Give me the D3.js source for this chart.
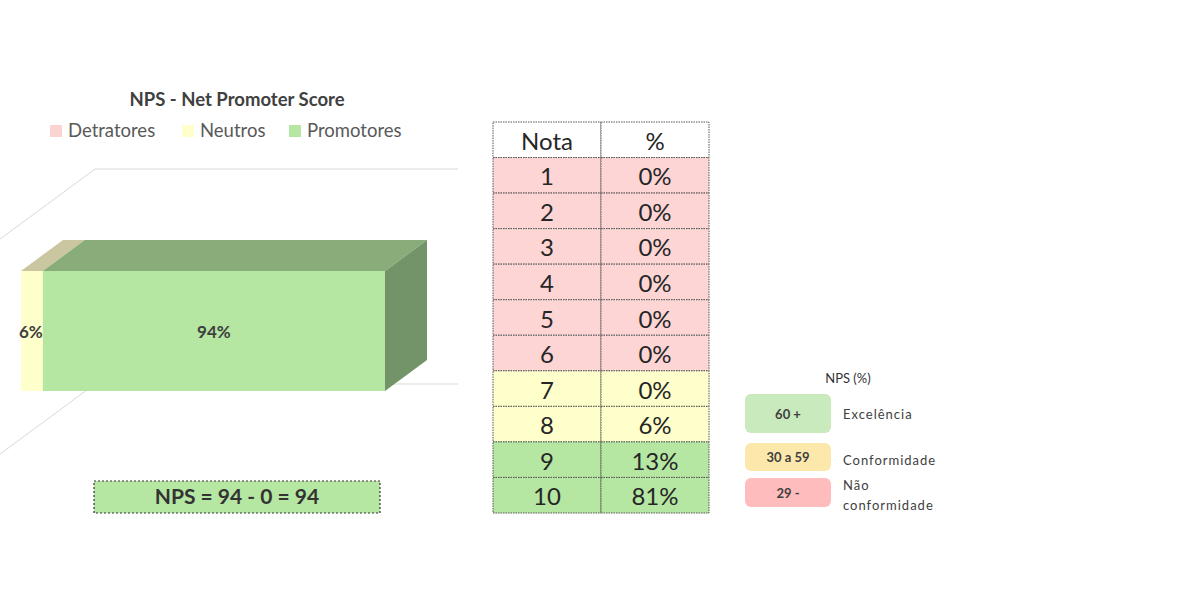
<!DOCTYPE html>
<html>
<head>
<meta charset="utf-8">
<script src="https://cdn.jsdelivr.net/npm/d3@7"></script>
<style>
  body { margin: 0; background: #fff; }
  text { font-family: Lato, "Noto Sans", sans-serif; }
</style>
</head>
<body>
<script>
// chart data
var categories = ["Detratores", "Neutros", "Promotores"]
var values = [0, 6, 94]
var catColors = ["#fcd3d3", "#ffffcc", "#b5e6a2"]

// table data
var notas = [1, 2, 3, 4, 5, 6, 7, 8, 9, 10]
var percents = [0, 0, 0, 0, 0, 0, 0, 6, 13, 81]
var notaGroup = [0, 0, 0, 0, 0, 0, 1, 1, 2, 2]

// NPS legend
var levelLabels = ["60 +", "30 a 59", "29 -"]
var levelNames = [["Excelência"], ["Conformidade"], ["Não", "conformidade"]]
var levelColors = ["#c8eabc", "#fde8ac", "#ffbcbc"]

var width = 1200, height = 600

var svg = d3.select("body").append("svg")
    .attr("width", width)
    .attr("height", height)

// ---------- 3D stacked bar ----------
var dx = 42, dy = -31
var x = d3.scaleLinear().domain([0, 100]).range([21, 385])
var y = d3.scaleBand().domain(["NPS"]).range([271, 391])

var topColors = ["#d3b5b5", "#c9c6a0", "#88ad7a"]
var sideColor = "#739468"

// back gridlines (floor/wall)
var grid = svg.append("g").attr("stroke", "#d9d9d9").attr("fill", "none")
;[169, 384].forEach(function (gy) {
    grid.append("line").attr("x1", 95).attr("x2", 458).attr("y1", gy).attr("y2", gy)
    grid.append("line").attr("x1", 95).attr("y1", gy).attr("x2", 0).attr("y2", gy + 95 * 31 / 42)
})

var stacked = []
var acc = 0
values.forEach(function (v, i) {
    stacked.push({ name: categories[i], v: v, x0: acc, x1: acc + v, i: i })
    acc += v
})

var bar = svg.append("g")
var y0 = y("NPS"), y1 = y0 + y.bandwidth()
stacked.filter(function (d) { return d.v > 0 }).forEach(function (d) {
    var a = x(d.x0), b = x(d.x1)
    bar.append("polygon")
        .attr("points", [[a, y0], [b, y0], [b + dx, y0 + dy], [a + dx, y0 + dy]].join(" "))
        .attr("fill", topColors[d.i])
    bar.append("rect")
        .attr("x", a).attr("y", y0)
        .attr("width", b - a).attr("height", y1 - y0)
        .attr("fill", catColors[d.i])
})
var last = stacked[stacked.length - 1]
var xe = x(last.x1)
bar.append("polygon")
    .attr("points", [[xe, y0], [xe + dx, y0 + dy], [xe + dx, y1 + dy], [xe, y1]].join(" "))
    .attr("fill", sideColor)

// data labels
bar.selectAll("text.lbl")
    .data(stacked.filter(function (d) { return d.v > 0 }))
    .enter().append("text")
    .attr("class", "lbl")
    .attr("x", function (d) { return d.i == 1 ? x(d.x1) - 12 : (x(d.x0) + x(d.x1)) / 2 })
    .attr("y", (y0 + y1) / 2 + 7)
    .attr("text-anchor", "middle")
    .attr("font-size", "17px")
    .attr("font-weight", "bold")
    .attr("fill", "#404040")
    .text(function (d) { return d.v + "%" })

// title
svg.append("text")
    .attr("x", 237).attr("y", 106)
    .attr("text-anchor", "middle")
    .attr("font-size", "18.5px")
    .attr("font-weight", "bold")
    .attr("fill", "#404040")
    .text("NPS - Net Promoter Score")

// legend
var legX = [50, 182, 289]
var leg = svg.append("g")
categories.forEach(function (c, i) {
    leg.append("rect")
        .attr("x", legX[i]).attr("y", 125)
        .attr("width", 12).attr("height", 12)
        .attr("fill", catColors[i])
    leg.append("text")
        .attr("x", legX[i] + 18).attr("y", 137)
        .attr("font-size", "18.5px")
        .attr("fill", "#595959")
        .text(c)
})

// NPS result box
var nps = values[2] - values[0]
svg.append("rect")
    .attr("x", 94).attr("y", 481)
    .attr("width", 286).attr("height", 32)
    .attr("fill", "#b5e6a2")
    .attr("stroke", "#333")
    .attr("stroke-width", 1.2)
    .attr("stroke-dasharray", "2,2")
svg.append("text")
    .attr("x", 237).attr("y", 504)
    .attr("text-anchor", "middle")
    .attr("font-size", "21px")
    .attr("font-weight", "bold")
    .attr("fill", "#333")
    .text("NPS = " + values[2] + " - " + values[0] + " = " + nps)

// ---------- table ----------
var groupColors = ["#fdd5d5", "#ffffcc", "#b5e6a2"]
var rowY = d3.scaleBand().domain(["head"].concat(notas)).range([122, 513])
var colX = d3.scaleOrdinal().domain(["nota", "pct"]).range([493, 601])
var colW = { nota: 108, pct: 108 }

var table = svg.append("g")
var rows = [{ key: "head", a: "Nota", b: "%", fill: "#fff" }]
notas.forEach(function (n, i) {
    rows.push({ key: n, a: n, b: percents[i] + "%", fill: groupColors[notaGroup[i]] })
})
rows.forEach(function (r) {
    ["nota", "pct"].forEach(function (c) {
        table.append("rect")
            .attr("x", colX(c)).attr("y", rowY(r.key))
            .attr("width", colW[c]).attr("height", rowY.bandwidth())
            .attr("fill", r.fill)
            .attr("stroke", "#555")
            .attr("stroke-width", 1)
            .attr("stroke-dasharray", "1.5,1")
        table.append("text")
            .attr("x", colX(c) + colW[c] / 2)
            .attr("y", rowY(r.key) + rowY.bandwidth() / 2 + 10)
            .attr("text-anchor", "middle")
            .attr("font-size", "24px")
            .attr("fill", "#262626")
            .text(c == "nota" ? r.a : r.b)
    })
})

// ---------- NPS (%) legend ----------
var lg = svg.append("g")
lg.append("text")
    .attr("x", 848).attr("y", 383)
    .attr("text-anchor", "middle")
    .attr("font-size", "13px")
    .attr("fill", "#333")
    .text("NPS (%)")
var boxY = [394, 443, 478]
var boxH = [39, 28, 29]
levelLabels.forEach(function (l, i) {
    lg.append("rect")
        .attr("x", 745).attr("y", boxY[i])
        .attr("width", 86).attr("height", boxH[i])
        .attr("rx", 6)
        .attr("fill", levelColors[i])
    lg.append("text")
        .attr("x", 788).attr("y", boxY[i] + boxH[i] / 2 + 5)
        .attr("text-anchor", "middle")
        .attr("font-size", "13px")
        .attr("font-weight", "bold")
        .attr("fill", "#404040")
        .text(l)
    var names = levelNames[i]
    names.forEach(function (n, j) {
        lg.append("text")
            .attr("x", 843)
            .attr("y", names.length == 1 ? boxY[i] + boxH[i] / 2 + 5 + (i == 1 ? 3 : 0) : boxY[i] + 12 + j * 20)
            .attr("font-size", "13px")
            .attr("letter-spacing", "1px")
            .attr("fill", "#404040")
            .text(n)
    })
})
</script>
</body>
</html>
